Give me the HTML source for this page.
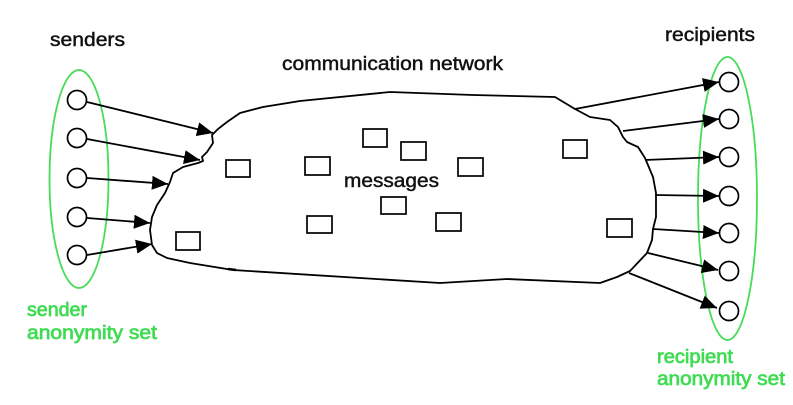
<!DOCTYPE html>
<html><head><meta charset="utf-8"><style>
html,body{margin:0;padding:0;background:#fff;}
svg{display:block;}
text{font-family:"Liberation Sans",Arial,sans-serif;}
</style></head><body>
<svg width="793" height="405" viewBox="0 0 793 405" xmlns="http://www.w3.org/2000/svg">
<defs>
<marker id="ah" markerUnits="userSpaceOnUse" markerWidth="18" markerHeight="14" refX="16" refY="7" orient="auto">
<path d="M0,0 L16,7 L0,14 z" fill="#000"/>
</marker>
</defs>
<rect width="793" height="405" fill="#fff"/>

<!-- cloud -->
<path d="M212,135 L218,129 L227,122 L240,113 L263,107 L300,101 L390,92 L473,95 L555,97 L575,109 L590,117 L610,120 L618,127 L623,137 L627,142 L638,147 L645,158 L653,177 L656,193 L656,217 L653,229 L652,240 L647,253 L630,271 L617,277 L600,283 L507,279 L440,283 L233,270 L190,263 L167,258 L157,253 L152,245 L150,230 L152,217 L157,205 L165,193 L170,182 L173,173 L183,167 L198,163 L203,161 L202,157 L207,152 L213,143 Z" fill="#fff" stroke="#000" stroke-width="1.8" stroke-linejoin="round"/>
<path d="M228,269 L236,270" stroke="#000" stroke-width="2.5"/>

<!-- message boxes -->
<g fill="#fff" stroke="#000" stroke-width="1.7">
<rect x="226" y="160" width="24" height="17"/>
<rect x="305" y="157" width="25" height="18"/>
<rect x="363" y="129" width="24" height="18"/>
<rect x="401" y="142" width="25" height="18"/>
<rect x="458" y="158" width="25" height="18"/>
<rect x="563" y="140" width="24" height="18"/>
<rect x="381" y="197" width="25" height="17"/>
<rect x="307" y="216" width="25" height="17"/>
<rect x="436" y="213" width="25" height="18"/>
<rect x="607" y="219" width="25" height="18"/>
<rect x="176" y="232" width="24" height="18"/>
</g>

<!-- green ellipses -->
<ellipse cx="79" cy="179" rx="29.5" ry="109" fill="none" stroke="#48dc58" stroke-width="1.8"/>
<ellipse cx="727.5" cy="198.5" rx="29.5" ry="141.5" fill="none" stroke="#48dc58" stroke-width="1.8"/>

<!-- sender arrows -->
<g stroke="#000" stroke-width="1.8" marker-end="url(#ah)">
<line x1="87" y1="102" x2="213" y2="133"/>
<line x1="87" y1="139" x2="200" y2="160"/>
<line x1="87" y1="178" x2="168" y2="184"/>
<line x1="87" y1="218" x2="150" y2="223"/>
<line x1="87" y1="255" x2="152" y2="244"/>
</g>

<!-- recipient arrows -->
<g stroke="#000" stroke-width="1.8" marker-end="url(#ah)">
<line x1="575" y1="109" x2="719" y2="82"/>
<line x1="623" y1="131" x2="719" y2="119"/>
<line x1="645" y1="160" x2="719" y2="157"/>
<line x1="655" y1="195" x2="719" y2="196"/>
<line x1="653" y1="229" x2="719" y2="233"/>
<line x1="648" y1="253" x2="718" y2="270"/>
<line x1="629" y1="273" x2="717" y2="308"/>
</g>

<!-- sender circles -->
<g fill="#fff" stroke="#000" stroke-width="1.7">
<circle cx="77" cy="100" r="9.5"/>
<circle cx="77" cy="138" r="9.5"/>
<circle cx="77" cy="178" r="9.5"/>
<circle cx="77" cy="217" r="9.5"/>
<circle cx="77" cy="255" r="9.5"/>
</g>
<!-- recipient circles -->
<g fill="#fff" stroke="#000" stroke-width="1.7">
<circle cx="729" cy="82" r="9.5"/>
<circle cx="729" cy="119" r="9.5"/>
<circle cx="729" cy="157" r="9.5"/>
<circle cx="729" cy="196" r="9.5"/>
<circle cx="729" cy="233" r="9.5"/>
<circle cx="729" cy="271" r="9.5"/>
<circle cx="729" cy="311" r="9.5"/>
</g>

<!-- labels -->
<g fill="#111" stroke="#111" stroke-width="0.45" font-size="19">
<text x="50" y="46" textLength="75" lengthAdjust="spacingAndGlyphs">senders</text>
<text x="282" y="70" textLength="221" lengthAdjust="spacingAndGlyphs">communication network</text>
<text x="665" y="41" textLength="90" lengthAdjust="spacingAndGlyphs">recipients</text>
<text x="344" y="187" textLength="95" lengthAdjust="spacingAndGlyphs">messages</text>
</g>
<g fill="#3fdc52" stroke="#3fdc52" stroke-width="0.7" font-size="19">
<text x="27" y="316" textLength="60" lengthAdjust="spacingAndGlyphs">sender</text>
<text x="27" y="339" textLength="130" lengthAdjust="spacingAndGlyphs">anonymity set</text>
<text x="657" y="363" textLength="76" lengthAdjust="spacingAndGlyphs">recipient</text>
<text x="657" y="385" textLength="128" lengthAdjust="spacingAndGlyphs">anonymity set</text>
</g>
</svg>
</body></html>
